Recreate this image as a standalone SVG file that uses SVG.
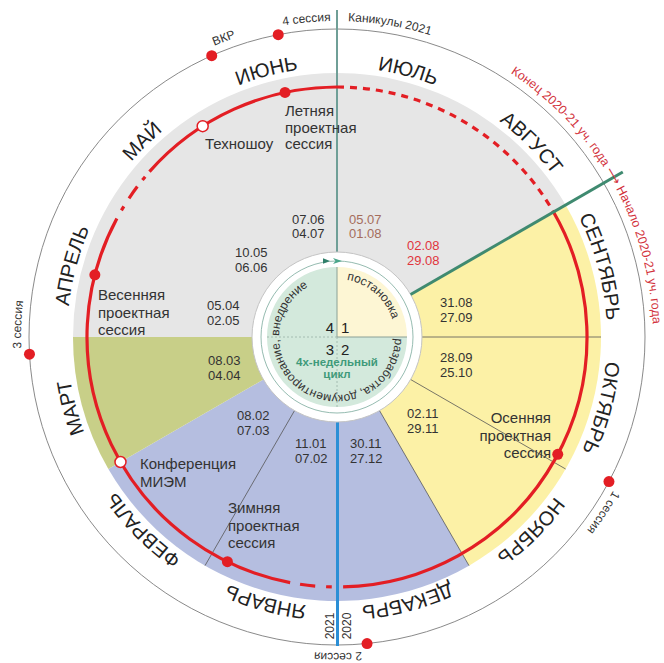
<svg xmlns="http://www.w3.org/2000/svg" width="664" height="663" viewBox="0 0 664 663">
<style>
text{font-family:"Liberation Sans",Arial,"DejaVu Sans",sans-serif}
.m{font-size:20px;fill:#222}
.o{font-size:12px;fill:#333}
.r{fill:#d2323c;font-size:12.5px}
.t{font-size:15px;fill:#333}
.d{font-size:13px;fill:#333}
.q{font-size:15px;fill:#222}
.c{font-size:12px;fill:#333}
.sec{stroke:none}
.ln{stroke:#555;stroke-width:0.8;fill:none}
.red{stroke:#e31e24;stroke-width:3.2;fill:none}
.dotr{fill:#e31e24}
.dotw{fill:#fff;stroke:#e31e24;stroke-width:1.5}
</style>
<defs>
<path id="pm" d="M337,67 A270,270 0 0 1 337,607 A270,270 0 0 1 337,67 A270,270 0 0 1 337,607 A270,270 0 0 1 337,67"/>
<path id="po" d="M337,21 A316,316 0 0 1 337,653 A316,316 0 0 1 337,21 A316,316 0 0 1 337,653 A316,316 0 0 1 337,21"/>
<path id="pi" d="M337,279 A58,58 0 0 1 337,395 A58,58 0 0 1 337,279 A58,58 0 0 1 337,395 A58,58 0 0 1 337,279"/>
</defs>
<rect width="664" height="663" fill="#fff"/>

<g id="ring">
<circle cx="337" cy="337" r="308" fill="#fff" stroke="#8a8a8a" stroke-width="1"/>
</g>

<g id="sectors">
<path class="sec" fill="#e6e6e6" d="M337,337 L73,337 A264,264 0 0 1 565.63,205 Z"/>
<path class="sec" fill="#fcf1a6" d="M337,337 L565.63,205 A264,264 0 0 1 469,565.63 Z"/>
<path class="sec" fill="#b5bee0" d="M337,337 L469,565.63 A264,264 0 0 1 108.37,469 Z"/>
<path class="sec" fill="#c8cf88" d="M337,337 L108.37,469 A264,264 0 0 1 73,337 Z"/>
</g>

<g id="connectors">
<line class="ln" x1="422" y1="337" x2="601" y2="337"/>
<line class="ln" x1="410.61" y1="379.5" x2="565.63" y2="469"/>
<line class="ln" x1="379.5" y1="410.61" x2="469" y2="565.63"/>
<line class="ln" x1="294.5" y1="410.61" x2="205" y2="565.63"/>
<line x1="337" y1="10" x2="337" y2="252" stroke="#6f9f97" stroke-width="2"/>
<line x1="337.5" y1="422" x2="337.5" y2="646" stroke="#2b8fd6" stroke-width="3"/>
<path class="red" d="M553.51,212 A250,250 0 0 1 343.11,586.93"/>
<path class="red" d="M331.76,586.95 A250,250 0 0 1 326.1,586.76"/>
<path class="red" d="M315.21,586.05 A250,250 0 0 1 300.05,584.26"/>
<path class="red" d="M290.16,582.57 A250,250 0 0 1 116.88,218.48"/>
<path class="red" d="M121.41,210.43 A250,250 0 0 1 123.84,206.38"/>
<path class="red" d="M129.01,198.29 A250,250 0 0 1 137.34,186.54"/>
<path class="red" d="M142.38,180.08 A250,250 0 0 1 145.16,176.69"/>
<path class="red" d="M149.47,171.67 A250,250 0 0 1 337,87"/>
<path class="red" stroke-dasharray="7 6" d="M337,87 A250,250 0 0 1 553.51,212"/>
</g>

<g id="center">
<circle cx="337" cy="337" r="85" fill="#fff" stroke="#c4c4c4" stroke-width="1"/>
<circle cx="337" cy="337" r="76" fill="none" stroke="#7aaa9c" stroke-width="0.8"/>
<path d="M337,337 L337,267 A70,70 0 0 1 407,337 Z" fill="#fdf6d4"/>
<path d="M337,337 L407,337 A70,70 0 1 1 337,267 Z" fill="#d3e9dc"/>
<line x1="337" y1="267" x2="337" y2="337" stroke="#8aa096" stroke-width="1"/>
<line x1="337" y1="337" x2="407" y2="337" stroke="#8aa096" stroke-width="1"/>
<line x1="267" y1="337" x2="337" y2="337" stroke="#9ab0a6" stroke-width="0.8" stroke-dasharray="2 2"/>
<line x1="337" y1="337" x2="337" y2="407" stroke="#9ab0a6" stroke-width="0.8" stroke-dasharray="2 2"/>
<path d="M323,258.3 L330,261 L323,263.7 Z" fill="#2f7f6a"/>
<path d="M333,258 L342,261 L333,264 L335.5,261 Z" fill="#4aa58a"/>
<text class="c"><textPath href="#pi" startOffset="41.5" text-anchor="middle">постановка</textPath></text>
<text class="c"><textPath href="#pi" startOffset="213.1" text-anchor="middle">разработка, документирование, внедрение</textPath></text>
<text class="q" x="334" y="333" text-anchor="end">4</text>
<text class="q" x="341" y="333">1</text>
<text class="q" x="334" y="355" text-anchor="end">3</text>
<text class="q" x="341" y="355">2</text>
<text x="337" y="366" text-anchor="middle" font-size="11.5" font-weight="bold" fill="#3f9a7a">4х-недельный</text>
<text x="337" y="378" text-anchor="middle" font-size="11.5" font-weight="bold" fill="#3f9a7a">цикл</text>
</g>

<g id="academic-line">
<line x1="410.61" y1="294.5" x2="622.79" y2="172" stroke="#3f8a70" stroke-width="3"/>
</g>

<g id="months">
<text class="m"><textPath href="#pm" startOffset="70.7" text-anchor="middle">ИЮЛЬ</textPath></text>
<text class="m"><textPath href="#pm" startOffset="212.1" text-anchor="middle">АВГУСТ</textPath></text>
<text class="m"><textPath href="#pm" startOffset="353.4" text-anchor="middle">СЕНТЯБРЬ</textPath></text>
<text class="m"><textPath href="#pm" startOffset="494.8" text-anchor="middle">ОКТЯБРЬ</textPath></text>
<text class="m"><textPath href="#pm" startOffset="636.2" text-anchor="middle">НОЯБРЬ</textPath></text>
<text class="m"><textPath href="#pm" startOffset="777.5" text-anchor="middle">ДЕКАБРЬ</textPath></text>
<text class="m"><textPath href="#pm" startOffset="918.9" text-anchor="middle">ЯНВАРЬ</textPath></text>
<text class="m"><textPath href="#pm" startOffset="1060.3" text-anchor="middle">ФЕВРАЛЬ</textPath></text>
<text class="m"><textPath href="#pm" startOffset="1201.7" text-anchor="middle">МАРТ</textPath></text>
<text class="m"><textPath href="#pm" startOffset="1343.0" text-anchor="middle">АПРЕЛЬ</textPath></text>
<text class="m"><textPath href="#pm" startOffset="1484.4" text-anchor="middle">МАЙ</textPath></text>
<text class="m"><textPath href="#pm" startOffset="1625.8" text-anchor="middle">ИЮНЬ</textPath></text>
</g>

<g id="outer-labels">
<text class="o"><textPath href="#po" startOffset="1858.7">ВКР</textPath></text>
<text class="o"><textPath href="#po" startOffset="1930.4">4 сессия</textPath></text>
<text class="o"><textPath href="#po" startOffset="11">Каникулы 2021</textPath></text>
<text class="o r"><textPath href="#po" startOffset="183.7">Конец 2020-21 уч. года ⟶ Начало 2020-21 уч. года</textPath></text>
<text class="o"><textPath href="#po" startOffset="656.3">1 сессия</textPath></text>
<text class="o"><textPath href="#po" startOffset="967.4">2 сессия</textPath></text>
<text class="o"><textPath href="#po" startOffset="1477">3 сессия</textPath></text>
<text class="o" font-size="11" transform="translate(334,626) rotate(-90)" text-anchor="middle">2021</text>
<text class="o" font-size="11" transform="translate(351,626) rotate(-90)" text-anchor="middle">2020</text>
</g>

<g id="outer-dots">
<circle class="dotr" cx="211.72" cy="55.63" r="5.5"/>
<circle class="dotr" cx="278.23" cy="34.66" r="5.5"/>
<circle class="dotr" cx="29.48" cy="354.19" r="5.5"/>
<circle class="dotr" cx="367.05" cy="643.53" r="5.5"/>
<circle class="dotr" cx="608.95" cy="481.6" r="5.5"/>
</g>

<g id="summer-session">
<circle class="dotr" cx="285.02" cy="92.46" r="5.5"/>
<text class="t" x="285" y="116">Летняя</text>
<text class="t" x="285" y="132.5">проектная</text>
<text class="t" x="285" y="149">сессия</text>
</g>
<g id="technoshow">
<circle class="dotw" cx="202.68" cy="126.15" r="5.5"/>
<text class="t" x="205" y="149">Техношоу</text>
</g>
<g id="spring-session">
<circle class="dotr" cx="94.86" cy="274.83" r="5.5"/>
<text class="t" x="98" y="300">Весенняя</text>
<text class="t" x="98" y="317.5">проектная</text>
<text class="t" x="98" y="335">сессия</text>
</g>
<g id="autumn-session">
<circle class="dotr" cx="557.74" cy="454.37" r="5.5"/>
<text class="t" x="551" y="423" text-anchor="end">Осенняя</text>
<text class="t" x="551" y="440.5" text-anchor="end">проектная</text>
<text class="t" x="551" y="458" text-anchor="end">сессия</text>
</g>
<g id="conference">
<circle class="dotw" cx="120.49" cy="462" r="5.5"/>
<text class="t" x="140" y="469">Конференция</text>
<text class="t" x="140" y="487">МИЭМ</text>
</g>
<g id="winter-session">
<circle class="dotr" cx="227.41" cy="561.7" r="5.5"/>
<text class="t" x="228" y="513">Зимняя</text>
<text class="t" x="228" y="530.5">проектная</text>
<text class="t" x="228" y="548">сессия</text>
</g>

<g id="dates">
<text class="d" x="292" y="223.5">07.06</text><text class="d" x="292" y="238">04.07</text>
<text class="d" x="349" y="223.5" style="fill:#a56d5c">05.07</text><text class="d" x="349" y="238" style="fill:#a56d5c">01.08</text>
<text class="d" x="235" y="257">10.05</text><text class="d" x="235" y="272">06.06</text>
<text class="d" x="407" y="250" style="fill:#e0353d">02.08</text><text class="d" x="407" y="265" style="fill:#e0353d">29.08</text>
<text class="d" x="207" y="310">05.04</text><text class="d" x="207" y="325">02.05</text>
<text class="d" x="440" y="307">31.08</text><text class="d" x="440" y="322">27.09</text>
<text class="d" x="208" y="365">08.03</text><text class="d" x="208" y="380">04.04</text>
<text class="d" x="440" y="362">28.09</text><text class="d" x="440" y="377">25.10</text>
<text class="d" x="237" y="420">08.02</text><text class="d" x="237" y="435">07.03</text>
<text class="d" x="407" y="418">02.11</text><text class="d" x="407" y="433">29.11</text>
<text class="d" x="295" y="448">11.01</text><text class="d" x="295" y="463">07.02</text>
<text class="d" x="350" y="448">30.11</text><text class="d" x="350" y="463">27.12</text>
</g>
</svg>
